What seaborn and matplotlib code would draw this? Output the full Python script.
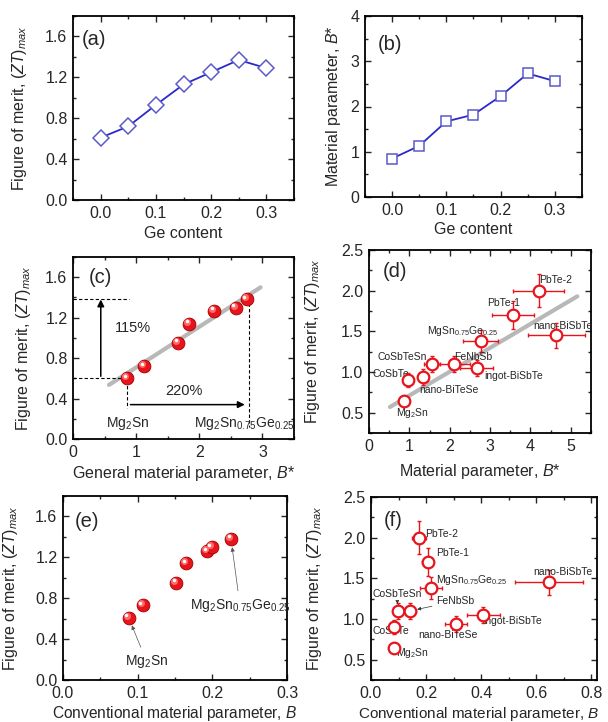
import numpy as np
import matplotlib
matplotlib.use("Agg")
import matplotlib.pyplot as plt
import matplotlib.transforms as mtransforms
from matplotlib.ticker import MultipleLocator, FormatStrFormatter
import seaborn as sns

# Mg2Sn(1-x)Ge(x) series
ge_content = [0.0, 0.05, 0.10, 0.15, 0.20, 0.25, 0.30]
zt_ge = [0.61, 0.72, 0.93, 1.13, 1.25, 1.37, 1.29]
bstar_ge = [0.85, 1.13, 1.67, 1.82, 2.23, 2.73, 2.56]

# same series, ZT vs B* (panel c) and vs B (panel e)
bstar_c = [0.86, 1.13, 1.67, 1.84, 2.24, 2.58, 2.75]
zt_c = [0.60, 0.72, 0.95, 1.14, 1.27, 1.30, 1.38]
fit_c_x = [0.57, 2.97]
fit_c_y = [0.535, 1.50]
b_ge = [0.088, 0.107, 0.152, 0.165, 0.193, 0.199, 0.225]
zt_e = [0.61, 0.73, 0.95, 1.14, 1.26, 1.30, 1.38]

# literature materials (panels d and f)
materials = ["Mg$_2$Sn", "CoSbTe", "nano-BiTeSe", "CoSbTeSn", "FeNbSb", "ingot-BiSbTe",
             "MgSn$_{0.75}$Ge$_{0.25}$", "PbTe-1", "PbTe-2", "nano-BiSbTe"]
zt_mat = [0.64, 0.90, 0.94, 1.10, 1.10, 1.05, 1.38, 1.70, 2.00, 1.45]
zt_mat_err = [0.0, 0.09, 0.10, 0.10, 0.10, 0.10, 0.14, 0.17, 0.20, 0.15]
bstar_mat = [0.86, 0.97, 1.34, 1.57, 2.10, 2.67, 2.77, 3.57, 4.20, 4.64]
bstar_mat_err = [0.0, 0.0, 0.12, 0.2, 0.39, 0.41, 0.43, 0.52, 0.64, 0.70]
fit_d_x = [0.52, 5.16]
fit_d_y = [0.57, 1.93]
b_mat = [0.082, 0.082, 0.307, 0.098, 0.143, 0.407, 0.219, 0.205, 0.175, 0.646]
b_mat_err = [0.0, 0.0, 0.04, 0.0, 0.02, 0.06, 0.04, 0.02, 0.025, 0.125]

sns.set_style("ticks")
plt.rcParams["font.family"] = ["Liberation Sans", "DejaVu Sans"]
plt.rcParams["mathtext.fontset"] = "custom"
plt.rcParams["mathtext.rm"] = "Liberation Sans"
plt.rcParams["mathtext.it"] = "Liberation Sans:italic"
plt.rcParams["mathtext.default"] = "regular"

FS = 11.5
BLUE = "#2a2ac8"
BLUE_M = "#5a5acb"
RED = "#e8141c"
GRAY = "#b8b8b8"
ZT_LABEL = r"Figure of merit, $\mathit{(ZT)}_{\mathit{max}}$"

fig = plt.figure(figsize=(6.08, 7.22), dpi=100)


def make_ax(l, t, r, b):
    return fig.add_axes([l / 608, 1 - b / 722, (r - l) / 608, (b - t) / 722])


def style(ax, xmaj, xmin, ymaj, ymin, xfmt, yfmt):
    ax.xaxis.set_major_locator(MultipleLocator(xmaj))
    ax.xaxis.set_minor_locator(MultipleLocator(xmin))
    ax.yaxis.set_major_locator(MultipleLocator(ymaj))
    ax.yaxis.set_minor_locator(MultipleLocator(ymin))
    ax.xaxis.set_major_formatter(FormatStrFormatter(xfmt))
    ax.yaxis.set_major_formatter(FormatStrFormatter(yfmt))
    ax.tick_params(which="both", direction="in", top=True, right=True,
                   labelsize=FS, pad=4, width=1)
    ax.tick_params(which="major", length=4)
    ax.tick_params(which="minor", length=2)
    for s in ax.spines.values():
        s.set_linewidth(1.3)
        s.set_color("black")


def labels(ax, xlabel, ylabel, ylx, xly, tag, tx, ty, xfs=FS, xlx=0.5):
    ax.set_xlabel(xlabel, fontsize=xfs)
    ax.set_ylabel(ylabel, fontsize=FS)
    ax.yaxis.set_label_coords(ylx, 0.5)
    ax.xaxis.set_label_coords(xlx, xly)
    ax.text(tx, ty, tag, transform=ax.transAxes, fontsize=14.5, va="center", ha="left")


def sphere(ax, x, y, s=85):
    # glossy red balls: base + highlight offset up-left
    sns.scatterplot(x=x, y=y, ax=ax, s=s, color=RED, edgecolor="#a00000",
                    linewidth=0.6, zorder=4, legend=False)
    off = mtransforms.offset_copy(ax.transData, fig=fig, x=-2, y=2, units="dots")
    ax.scatter(x, y, s=s * 0.3, color="#ff6a6a", lw=0, zorder=5, transform=off)
    off2 = mtransforms.offset_copy(ax.transData, fig=fig, x=-2.5, y=2.5, units="dots")
    ax.scatter(x, y, s=s * 0.07, color="white", lw=0, zorder=6, transform=off2)


# (a)
ax = make_ax(73, 16, 294, 200)
sns.lineplot(x=ge_content, y=zt_ge, ax=ax, color=BLUE, lw=1.3, marker="D",
             markersize=8, markerfacecolor="white", markeredgecolor=BLUE_M,
             markeredgewidth=1.1)
ax.set_xlim(-0.05, 0.35)
ax.set_ylim(0, 1.8)
style(ax, 0.1, 0.05, 0.4, 0.2, "%.1f", "%.1f")
labels(ax, "Ge content", ZT_LABEL, -0.20, -0.14, "(a)", 0.04, 0.87)

# (b)
ax = make_ax(365, 16, 582, 197)
sns.lineplot(x=ge_content, y=bstar_ge, ax=ax, color=BLUE, lw=1.3, marker="s",
             markersize=7.5, markerfacecolor="white", markeredgecolor=BLUE_M,
             markeredgewidth=1.1)
ax.set_xlim(-0.05, 0.35)
ax.set_ylim(0, 4)
style(ax, 0.1, 0.05, 1, 0.5, "%.1f", "%d")
labels(ax, "Ge content", r"Material parameter, $\mathit{B}$*", -0.10, -0.14,
       "(b)", 0.06, 0.84)

# (c)
ax = make_ax(73, 257, 294, 439)
sns.lineplot(x=fit_c_x, y=fit_c_y, ax=ax, color=GRAY, lw=3, zorder=2)
sphere(ax, bstar_c, zt_c)
dash = dict(color="black", lw=0.8, ls=(0, (3, 2)))
ax.plot([0, bstar_c[0]], [zt_c[0], zt_c[0]], **dash)
ax.plot([0, bstar_c[-1] * 0.32], [zt_c[-1], zt_c[-1]], **dash)
ax.plot([bstar_c[0], bstar_c[0]], [zt_c[0] - 0.02, 0.31], **dash)
ax.plot([bstar_c[-1] + 0.04, bstar_c[-1] + 0.04], [zt_c[-1] - 0.03, 0.12], **dash)
ax.annotate("", xy=(0.44, zt_c[-1]), xytext=(0.44, zt_c[0] + 0.02),
            arrowprops=dict(arrowstyle="-|>", color="black", lw=1.1,
                            mutation_scale=10, shrinkA=0, shrinkB=0))
ax.annotate("", xy=(bstar_c[-1] - 0.03, 0.34), xytext=(bstar_c[0] + 0.05, 0.34),
            arrowprops=dict(arrowstyle="-|>", color="black", lw=1.1,
                            mutation_scale=10, shrinkA=0, shrinkB=0))
ax.text(0.95, 1.10, "115%", fontsize=10.5, ha="center", va="center")
ax.text(1.76, 0.47, "220%", fontsize=10.5, ha="center", va="center")
ax.text(0.87, 0.155, "Mg$_2$Sn", fontsize=10, ha="center", va="center")
ax.text(2.71, 0.155, "Mg$_2$Sn$_{0.75}$Ge$_{0.25}$", fontsize=10, ha="center", va="center")
ax.set_xlim(0, 3.5)
ax.set_ylim(0, 1.8)
style(ax, 1, 0.5, 0.4, 0.2, "%d", "%.1f")
labels(ax, r"General material parameter, $\mathit{B}$*", ZT_LABEL, -0.18, -0.14,
       "(c)", 0.07, 0.89)

# (d)
ax = make_ax(369, 250, 591, 433)
sns.lineplot(x=fit_d_x, y=fit_d_y, ax=ax, color=GRAY, lw=3, zorder=2)
ax.errorbar(bstar_mat, zt_mat, xerr=bstar_mat_err, yerr=zt_mat_err, fmt="none",
            ecolor=RED, elinewidth=1, capsize=1.5, zorder=3)
sns.scatterplot(x=bstar_mat, y=zt_mat, ax=ax, s=70, marker="o", facecolor="white",
                edgecolor=RED, linewidth=1.6, zorder=4, legend=False)
d_label_pos = [(0.66, 0.49), (0.08, 0.98), (1.24, 0.78), (0.22, 1.19), (2.12, 1.19),
               (2.85, 0.95), (1.44, 1.51), (2.93, 1.85), (4.21, 2.13), (4.07, 1.57)]
for name, (tx, ty) in zip(materials, d_label_pos):
    ax.text(tx, ty, name, fontsize=7.5, va="center", ha="left")
ax.set_xlim(0, 5.5)
ax.set_ylim(0.25, 2.5)
style(ax, 1, 0.5, 0.5, 0.25, "%d", "%.1f")
labels(ax, r"Material parameter, $\mathit{B}$*", ZT_LABEL, -0.21, -0.16,
       "(d)", 0.06, 0.88)

# (e)
ax = make_ax(63, 496, 287, 680)
sphere(ax, b_ge, zt_e)
thin = dict(arrowstyle="-|>", color="#555555", lw=0.5, mutation_scale=6,
            shrinkA=2, shrinkB=6)
ax.annotate("Mg$_2$Sn", xy=(b_ge[0], zt_e[0]), xytext=(0.112, 0.18),
            fontsize=10, ha="center", va="center", arrowprops=thin)
ax.annotate("Mg$_2$Sn$_{0.75}$Ge$_{0.25}$", xy=(b_ge[-1], zt_e[-1]),
            xytext=(0.237, 0.73), fontsize=10, ha="center", va="center",
            arrowprops=thin)
ax.set_xlim(0, 0.3)
ax.set_ylim(0, 1.8)
style(ax, 0.1, 0.05, 0.4, 0.2, "%.1f", "%.1f")
labels(ax, r"Conventional material parameter, $\mathit{B}$", ZT_LABEL, -0.19, -0.13,
       "(e)", 0.054, 0.86, xfs=11.2)

# (f)
ax = make_ax(371, 497, 597, 680)
ax.errorbar(b_mat, zt_mat, xerr=b_mat_err, yerr=zt_mat_err, fmt="none",
            ecolor=RED, elinewidth=1, capsize=1.5, zorder=3)
sns.scatterplot(x=b_mat, y=zt_mat, ax=ax, s=70, marker="o", facecolor="white",
                edgecolor=RED, linewidth=1.6, zorder=4, legend=False)
f_label_pos = [(0.09, 0.58), (0.004, 0.857), (0.171, 0.80), (0.004, 1.31), (0.238, 1.22),
               (0.407, 0.98), (0.235, 1.48), (0.235, 1.81), (0.195, 2.04), (0.589, 1.58)]
for i, (name, (tx, ty)) in enumerate(zip(materials, f_label_pos)):
    if name in ("CoSbTeSn", "FeNbSb"):
        ax.annotate(name, xy=(b_mat[i], zt_mat[i]), xytext=(tx, ty), fontsize=7.5,
                    ha="left", va="center",
                    arrowprops=dict(arrowstyle="-|>", color="#333333", lw=0.5,
                                    mutation_scale=5, shrinkA=1, shrinkB=5))
    else:
        ax.text(tx, ty, name, fontsize=7.5, va="center", ha="left")
ax.set_xlim(0, 0.82)
ax.set_ylim(0.25, 2.5)
style(ax, 0.2, 0.1, 0.5, 0.25, "%.1f", "%.1f")
labels(ax, r"Conventional material parameter, $\mathit{B}$", ZT_LABEL, -0.21, -0.135,
       "(f)", 0.058, 0.87, xfs=11, xlx=0.475)

fig.savefig("out.png", dpi=100)
